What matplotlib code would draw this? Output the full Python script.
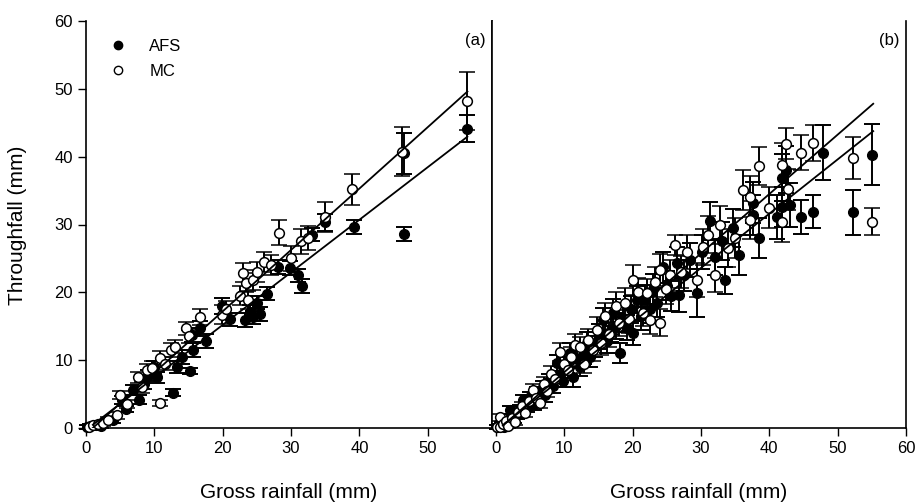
import matplotlib.pyplot as plt
from matplotlib.lines import Line2D
import numpy as np

plt.rcParams['font.family'] = ['Liberation Sans', 'DejaVu Sans']

# panel (a): gross rainfall, throughfall, error (mm)
afs_a_x = [0.1, 0.6, 1.5, 2.2, 4.0, 5.3, 5.8, 6.9, 7.8, 8.5, 9.0, 10.4, 10.0, 12.7, 13.3, 14.0,
           15.2, 15.5, 15.6, 16.7, 17.5, 19.9, 21.0, 23.3, 24.0, 24.5, 25.4, 25.0, 26.5, 28.1,
           29.8, 31.0, 31.6, 33.0, 35.0, 39.2, 46.5, 46.5, 55.8]
afs_a_y = [0.1, 0.3, 0.5, 0.3, 1.2, 4.1, 2.8, 5.6, 4.2, 6.5, 7.8, 7.5, 9.0, 5.2, 9.0, 10.5,
           8.4, 13.7, 11.5, 14.7, 12.8, 18.0, 16.0, 15.9, 17.1, 16.3, 16.8, 18.5, 19.8, 23.7,
           23.6, 22.5, 20.9, 28.5, 30.3, 29.6, 28.6, 40.5, 44.1]
afs_a_e = [0.3, 0.3, 0.3, 0.3, 0.4, 0.6, 0.5, 0.7, 0.6, 0.8, 0.8, 0.8, 0.9, 0.5, 0.9, 1.0,
           0.4, 1.0, 1.0, 1.1, 1.0, 1.2, 1.0, 1.0, 1.0, 1.0, 1.0, 1.0, 1.0, 1.0,
           1.0, 1.0, 1.0, 1.0, 1.2, 1.0, 1.0, 3.0, 2.0]

mc_a_x = [0.4, 1.0, 1.8, 2.5, 3.2, 4.5, 5.0, 6.0, 7.6, 8.2, 8.9, 9.6, 10.8, 10.8, 11.5, 12.5,
          13.0, 14.6, 15.0, 16.7, 19.9, 20.5, 22.5, 23.0, 23.4, 23.7, 24.4, 25.0, 26.0, 27.0,
          28.3, 30.0, 31.5, 32.5, 34.9, 38.9, 46.3, 55.8]
mc_a_y = [0.2, 0.4, 0.6, 0.7, 1.2, 1.9, 4.9, 3.5, 7.5, 6.0, 8.5, 8.9, 10.3, 3.7, 9.5, 11.5,
          12.0, 14.7, 13.5, 16.4, 16.7, 17.5, 19.5, 22.9, 21.4, 18.9, 21.8, 23.0, 24.5, 24.0,
          28.8, 25.0, 27.5, 28.0, 31.1, 35.2, 40.7, 48.2]
mc_a_e = [0.3, 0.3, 0.3, 0.4, 0.4, 0.5, 0.6, 0.6, 0.8, 0.8, 1.0, 1.0, 1.0, 0.5, 1.0, 1.0,
          1.0, 1.0, 1.0, 1.2, 1.4, 1.2, 1.4, 1.4, 1.4, 1.3, 1.5, 1.5, 1.5, 1.5,
          1.8, 1.8, 1.8, 1.8, 2.2, 2.3, 3.6, 4.3]

# panel (b)
afs_b_x = [0.1, 0.4, 0.8, 1.2, 1.6, 2.0, 2.0, 2.6, 3.0, 3.5, 4.0, 4.5, 5.0, 5.5, 6.0, 6.9,
           7.2, 7.8, 8.3, 8.9, 9.3, 9.8, 10.2, 10.8, 11.3, 11.8, 12.3, 12.8, 13.3, 13.8, 14.5,
           15.0, 15.7, 16.2, 16.8, 17.1, 17.6, 18.2, 18.6, 19.2, 19.8, 20.1, 20.6, 21.2, 21.8,
           22.5, 23.0, 23.6, 24.5, 25.0, 25.6, 26.5, 26.8, 27.5, 28.4, 29.4, 30.2, 31.3, 32.0,
           33.0, 33.5, 34.7, 35.5, 37.6, 37.6, 38.5, 41.1, 41.9, 41.9, 42.5, 43.0, 44.7, 46.4,
           47.9, 52.3, 55.0]
afs_b_y = [0.1, 0.3, 0.5, 0.2, 0.8, 0.6, 2.7, 1.2, 2.0, 2.8, 4.1, 3.0, 4.5, 3.5, 5.2, 6.0,
           4.8, 7.0, 6.2, 9.6, 8.0, 7.0, 9.2, 11.1, 7.5, 10.2, 9.0, 11.0, 12.5, 10.5, 12.0,
           13.5, 15.9, 12.8, 14.5, 17.0, 15.0, 11.1, 16.2, 14.8, 17.5, 14.0, 18.9, 16.5, 19.0,
           17.5, 20.5, 18.5, 23.7, 21.0, 19.5, 24.3, 19.6, 22.5, 24.8, 19.9, 26.0, 30.5, 25.2,
           27.5, 21.8, 29.5, 25.5, 33.2, 31.4, 28.0, 31.1, 32.6, 36.9, 38.1, 32.9, 31.1, 31.9,
           40.6, 31.8, 40.3]
afs_b_e = [0.3, 0.3, 0.4, 0.3, 0.4, 0.4, 0.6, 0.5, 0.6, 0.6, 0.8, 0.7, 0.8, 0.8, 0.9, 1.0,
           0.9, 1.0, 1.0, 1.2, 1.2, 1.0, 1.3, 1.5, 1.5, 1.4, 1.3, 1.5, 1.6, 1.5, 1.6,
           1.8, 1.8, 1.7, 1.8, 2.0, 1.9, 1.5, 2.0, 1.9, 2.0, 1.8, 2.0, 2.0, 2.1,
           2.0, 2.2, 2.1, 2.3, 2.2, 2.2, 2.4, 2.5, 2.3, 2.5, 3.5, 2.5, 2.8, 2.6,
           2.8, 2.0, 2.8, 3.0, 3.0, 3.0, 3.0, 3.2, 3.0, 3.5, 3.5, 3.2, 2.5, 2.4,
           4.1, 3.3, 4.5]

mc_b_x = [0.2, 0.5, 0.6, 1.0, 1.4, 1.8, 2.3, 2.8, 3.2, 3.8, 4.3, 4.8, 5.4, 5.9, 6.4, 7.0,
          7.5, 8.1, 8.6, 9.4, 9.9, 10.5, 11.0, 11.5, 12.3, 12.9, 13.5, 14.2, 14.8, 15.3, 16.0,
          16.5, 17.5, 18.0, 18.8, 19.5, 20.1, 20.8, 21.5, 22.1, 22.5, 23.2, 24.0, 24.0, 24.8,
          25.5, 26.2, 27.0, 28.0, 29.4, 30.3, 31.0, 32.0, 32.8, 34.0, 35.0, 36.2, 37.2, 37.2,
          38.5, 40.0, 41.9, 41.9, 42.5, 42.8, 44.7, 46.4, 52.3, 55.0]
mc_b_y = [0.2, 0.1, 1.6, 0.6, 1.0, 0.3, 1.5, 0.9, 2.4, 3.2, 2.2, 4.0, 5.6, 4.4, 3.7, 6.5,
          5.5, 8.0, 7.2, 11.2, 9.5, 8.5, 10.5, 12.3, 11.9, 9.5, 13.0, 11.5, 14.5, 12.5, 16.5,
          13.8, 18.0, 15.5, 18.5, 16.0, 21.8, 20.0, 17.0, 19.9, 15.9, 21.5, 23.3, 15.5, 20.5,
          22.5, 27.0, 23.0, 26.0, 21.8, 26.7, 28.5, 22.5, 29.9, 26.5, 28.0, 35.1, 34.1, 30.7,
          38.6, 32.5, 38.8, 30.4, 41.9, 35.2, 40.6, 42.0, 39.8, 30.4]
mc_b_e = [0.3, 0.3, 0.5, 0.4, 0.4, 0.3, 0.5, 0.4, 0.6, 0.7, 0.6, 0.8, 0.9, 0.8, 0.8, 1.0,
          1.0, 1.1, 1.1, 1.3, 1.3, 1.2, 1.4, 1.5, 1.5, 1.4, 1.6, 1.6, 1.8, 1.7, 2.0,
          1.8, 2.0, 1.9, 2.1, 2.0, 2.2, 2.1, 2.0, 2.1, 2.0, 2.2, 2.3, 2.0, 2.2,
          2.3, 1.5, 2.4, 2.5, 2.5, 2.6, 2.7, 2.5, 2.8, 2.8, 3.0, 3.0, 3.0, 2.8,
          2.8, 3.0, 3.2, 3.0, 2.3, 3.0, 2.6, 2.7, 3.1, 2.0]

# regression lines: slope, intercept, x range
fit_a_mc = (0.905, -0.9, 1.0, 55.8)
fit_a_afs = (0.775, -0.3, 1.0, 55.8)
fit_b_mc = (0.875, -0.5, 1.0, 55.2)
fit_b_afs = (0.800, -0.4, 1.0, 55.2)

fig = plt.figure(figsize=(9.15, 5.04), dpi=100)
ax1 = fig.add_axes([86/915, 76/504, 406/915, 407/504])
ax2 = fig.add_axes([492/915, 76/504, 414/915, 407/504])

ebkw = dict(fmt='o', color='k', ecolor='k', elinewidth=1.4, capsize=5.5, capthick=1.4,
            markersize=7, clip_on=False, zorder=3)


def panel(ax, ax_, ay_, ae_, mx_, my_, me_, fits):
    ax.errorbar(ax_, ay_, yerr=ae_, mfc='k', mec='k', **ebkw)
    ax.errorbar(mx_, my_, yerr=me_, mfc='white', mec='k', mew=1.1, **ebkw)
    for s, b, x0, x1 in fits:
        xx = np.array([x0, x1])
        ax.plot(xx, s*xx + b, color='k', lw=1.3, zorder=4)
    ax.spines['top'].set_visible(False)
    for sp in ['left', 'right', 'bottom']:
        ax.spines[sp].set_linewidth(1.2)
    ax.tick_params(direction='out', length=6, width=1.0, labelsize=12)
    ax.set_ylim(0, 60)


panel(ax1, afs_a_x, afs_a_y, afs_a_e, mc_a_x, mc_a_y, mc_a_e, [fit_a_mc, fit_a_afs])
panel(ax2, afs_b_x, afs_b_y, afs_b_e, mc_b_x, mc_b_y, mc_b_e, [fit_b_mc, fit_b_afs])

ax1.set_xlim(0, 59.4)
ax1.set_xticks([0, 10, 20, 30, 40, 50])
ax1.set_yticks([0, 10, 20, 30, 40, 50, 60])
ax2.set_xlim(-0.6, 60)
ax2.set_xticks([0, 10, 20, 30, 40, 50, 60])
ax2.set_yticks([])

ax1.set_xlabel("Gross rainfall (mm)", fontsize=15, labelpad=19)
ax2.set_xlabel("Gross rainfall (mm)", fontsize=15, labelpad=19)
fig.text(18/915, 1 - 225/504, "Throughfall (mm)", rotation=90, ha='center', va='center',
         fontsize=15)

ax1.text(0.985, 0.97, "(a)", transform=ax1.transAxes, ha='right', va='top', fontsize=12)
ax2.text(0.985, 0.97, "(b)", transform=ax2.transAxes, ha='right', va='top', fontsize=12)

handles = [Line2D([], [], marker='o', ls='', color='k', mfc='k', markersize=6),
           Line2D([], [], marker='o', ls='', color='k', mfc='white', markersize=6)]
ax1.legend(handles, ["AFS", "MC"], loc='upper left', bbox_to_anchor=(0.0, 0.993),
           frameon=False, fontsize=12, handletextpad=0.9, labelspacing=0.62)

fig.savefig("out.png", dpi=100)
